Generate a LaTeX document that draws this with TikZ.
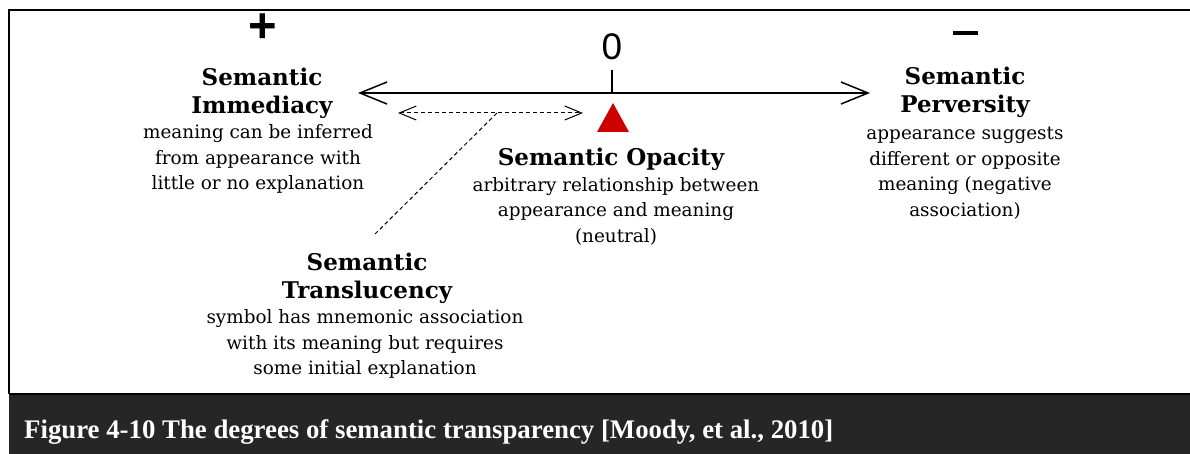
\documentclass[tikz,border=0pt]{standalone}
\usepackage{fontspec}
\setmainfont{DejaVu Serif}
\newfontfamily\capfont{Liberation Serif}
\newfontfamily\sansf{Liberation Sans}
\usetikzlibrary{arrows.meta}
\definecolor{capbg}{HTML}{262626}
\definecolor{tri}{HTML}{CC0000}
\tikzset{
  ttl/.style={align=center,font=\fontsize{23}{28}\selectfont\bfseries,inner sep=0pt},
  bdy/.style={align=center,font=\fontsize{18.4}{25.5}\selectfont,inner sep=0pt},
  bigarrow/.style={line width=1.5pt,{Straight Barb[length=27pt,width=22pt]}-{Straight Barb[length=27pt,width=22pt]}},
  dasharrow/.style={line width=1pt,dash pattern=on 4pt off 3pt,{Straight Barb[length=17pt,width=14pt]}-{Straight Barb[length=17pt,width=14pt]}},
  dashline/.style={line width=1pt,dash pattern=on 4pt off 3pt},
}
\begin{document}
\begin{tikzpicture}[x=1pt,y=-1pt]
\useasboundingbox (0,0) rectangle (1190,454);
% frame
\draw[line width=2.6pt] (1190,10) -- (9,10) -- (9,394);
\fill[capbg] (9,394) rectangle (1190,454);
\draw[line width=2.6pt] (9,394) -- (1190,394);
\node[anchor=west,text=white,font=\capfont\fontsize{26.8}{30}\selectfont\bfseries,inner sep=0pt] (cap) at (24,432) {Figure 4-10 The degrees of semantic transparency [Moody, et al., 2010]};
% scale
\coordinate (L) at (358,93);
\coordinate (R) at (870,93);
\coordinate (Z) at (612,93);
\coordinate (Ztop) at (612,70);
\draw[bigarrow] (L) -- (R);
\draw[line width=1.5pt] (Z) -- (Ztop);
\node[font=\sansf\fontsize{37}{40}\selectfont,inner sep=0pt] (zero) at (612,47) {0};
\node[font=\sansf\fontsize{49}{50}\selectfont\bfseries,inner sep=0pt] (plus) at (263,28) {+};
\node[fill=black,minimum width=25pt,minimum height=4pt,inner sep=0pt] (minus) at (965,33) {};
\fill[tri] (597,132) -- (613,103) -- (629,132) -- cycle;
\node[inner sep=0pt,minimum size=1pt] (tri) at (613,118) {};
% dashed
\coordinate (DL) at (398,113);
\coordinate (DR) at (583,113);
\coordinate (DM) at (497,113);
\coordinate (DE) at (373,236);
\draw[dasharrow] (DL) -- (DR);
\draw[dashline] (DM) -- (DE);
% texts
\node[ttl] (imm) at (262,93) {Semantic\\Immediacy};
\node[bdy] (immb) at (258,159) {meaning can be inferred\\from appearance with\\little or no explanation};
\node[ttl] (opa) at (611,159) {Semantic Opacity};
\node[bdy] (opab) at (616,211) {arbitrary relationship between\\appearance and meaning\\(neutral)};
\node[ttl] (per) at (965,92) {Semantic\\Perversity};
\node[bdy] (perb) at (965,173) {appearance suggests\\different or opposite\\meaning (negative\\association)};
\node[ttl] (tra) at (367,278) {Semantic\\Translucency};
\node[bdy] (trab) at (365,344) {symbol has mnemonic association\\with its meaning but requires\\some initial explanation};
\end{tikzpicture}
\end{document}
